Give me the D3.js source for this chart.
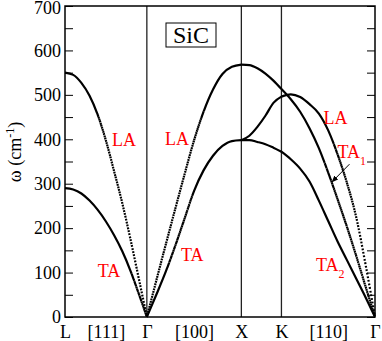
<!DOCTYPE html>
<meta charset="utf-8">
<html>
<head>
<style>
  body { margin: 0; background: #fff; }
  text { font-family: "Liberation Serif", "Times New Roman", serif; }
  .tick text { font-size: 18px; fill: #000; }
  .tick line { stroke: #000; stroke-width: 1px; }
  text.band { font-size: 18px; fill: #ff0000; }
  text.title { font-size: 18px; fill: #000; }
  text.name { font-size: 24px; fill: #000; }
  path.branch { fill: none; stroke: #000; stroke-width: 2.2px; stroke-linecap: butt; }
  line.sym { stroke: #222; stroke-width: 1.3px; }
</style>
<script src="https://d3js.org/d3.v7.min.js"></script>
</head>
<body>
<div id="chart"></div>
<script>
// path through the zone, positions in units of 2pi/a
var kNames = ["L", "Γ", "X", "K", "Γ"],
    kPos = [0, 0.866, 1.866, 2.29, 3.28],
    dirNames = ["[111]", "[100]", "", "[110]"],
    yTicks = d3.range(0, 701, 50);

// fractions along a segment at which the frequencies were read
var fTen = [0, 0.1, 0.2, 0.3, 0.4, 0.5, 0.6, 0.7, 0.8, 0.9, 1],
    fFive = [0, 0.2, 0.4, 0.6, 0.8, 1];

// frequencies (cm^-1)
// L -> Gamma
var laLG = [550, 545, 527, 498, 455, 397, 328, 256, 175, 88, 0],
    taLG = [290, 287, 278, 262, 241, 215, 184, 148, 104, 53, 0];
// Gamma -> X
var laGX = [0, 82, 163, 243, 322, 398, 462, 512, 547, 563, 568],
    taGX = [0, 50, 102, 160, 222, 284, 330, 363, 385, 396, 398];
// X -> K
var upXK = [568, 567, 560, 548, 532, 513],
    midXK = [398, 408, 428, 453, 482, 496],
    lowXK = [398, 398, 394, 389, 381, 372];
// K -> Gamma
var laKG = [496, 501, 495, 479, 458, 420, 366, 302, 224, 117, 0],
    ta1KG = [513, 490, 462, 425, 380, 325, 265, 203, 137, 68, 0],
    ta2KG = [372, 355, 334, 305, 262, 216, 170, 128, 86, 44, 0];

var branches = [
  { seg: 0, f: fTen, w: laLG }, { seg: 0, f: fTen, w: taLG },
  { seg: 1, f: fTen, w: laGX }, { seg: 1, f: fTen, w: taGX },
  { seg: 2, f: fFive, w: upXK }, { seg: 2, f: fFive, w: midXK }, { seg: 2, f: fFive, w: lowXK },
  { seg: 3, f: fTen, w: laKG }, { seg: 3, f: fTen, w: ta1KG }, { seg: 3, f: fTen, w: ta2KG }
];

// red branch labels: text, subscript, q, omega
var bandLabels = [
  { t: "LA", sub: "", q: 0.497, w: 384 },
  { t: "LA", sub: "", q: 1.058, w: 388 },
  { t: "TA", sub: "", q: 0.346, w: 91 },
  { t: "TA", sub: "", q: 1.227, w: 126 },
  { t: "LA", sub: "", q: 2.735, w: 434 },
  { t: "TA", sub: "1", q: 2.883, w: 358 },
  { t: "TA", sub: "2", q: 2.656, w: 104 }
];

var W = 382, H = 341,
    mLeft = 65, mRight = 375, mTop = 6, mBottom = 317;

var svg = d3.select("#chart").append("svg")
    .attr("width", W)
    .attr("height", H);

var x = d3.scaleLinear().domain([0, 3.28]).range([mLeft, mRight]);
var y = d3.scaleLinear().domain([0, 700]).range([mBottom, mTop]);

// y axes, ticks inside on both sides
var yl = svg.append("g")
    .attr("transform", "translate(" + mLeft + ",0)")
    .call(d3.axisLeft(y).tickValues(yTicks).tickSize(-8).tickPadding(4)
      .tickFormat(function(d) { return d % 100 ? "" : d; }));
yl.select(".domain").remove();
yl.selectAll(".tick text").filter(function(d) { return d === 700; }).attr("dy", "0.42em");

var yr = svg.append("g")
    .attr("transform", "translate(" + mRight + ",0)")
    .call(d3.axisRight(y).tickValues(yTicks).tickSize(-8).tickFormat(""));
yr.select(".domain").remove();

// bottom labels: symmetry points and directions
var bq = [], bt = [];
kPos.forEach(function(q, i) {
  bq.push(q); bt.push(kNames[i]);
  if (i < dirNames.length && dirNames[i]) {
    bq.push((q + kPos[i + 1]) / 2); bt.push(dirNames[i]);
  }
});
var xb = svg.append("g")
    .attr("transform", "translate(0," + mBottom + ")")
    .call(d3.axisBottom(x).tickValues(bq).tickSize(0).tickPadding(8)
      .tickFormat(function(d, i) { return bt[i]; }));
xb.select(".domain").remove();

// vertical lines at Gamma, X, K
svg.selectAll("line.sym")
    .data(kPos.slice(1, 4))
    .enter().append("line")
    .attr("class", "sym")
    .attr("x1", function(d) { return x(d); })
    .attr("x2", function(d) { return x(d); })
    .attr("y1", mTop)
    .attr("y2", mBottom);

// dispersion branches
var line = d3.line()
    .x(function(d) { return x(d.q); })
    .y(function(d) { return y(d.w); })
    .curve(d3.curveMonotoneX);

// dots evenly spaced in q, like the sampled calculation
function dotify(path) {
  var node = path.node(), L = node.getTotalLength();
  var dx = 0.65, dot = 1.8, step = 0.2;
  var next = node.getPointAtLength(0).x, centers = [];
  for (var s = 0; s <= L; s += step) {
    var p = node.getPointAtLength(s);
    if (p.x >= next) {
      centers.push(s);
      while (next <= p.x) next += dx;
    }
  }
  var segs = [];
  centers.forEach(function(c) {
    var a = Math.max(0, c - dot / 2), b = c + dot / 2;
    var last = segs[segs.length - 1];
    if (last && a <= last[1] + 0.1) last[1] = b;
    else segs.push([a, b]);
  });
  var arr = [0], cur = 0;
  segs.forEach(function(sg) {
    arr.push(sg[0] - cur, sg[1] - sg[0]);
    cur = sg[1];
  });
  arr.push(L + 10);
  path.attr("stroke-dasharray", arr.map(function(v) { return v.toFixed(2); }).join(" "));
}

branches.forEach(function(b) {
  var q0 = kPos[b.seg], q1 = kPos[b.seg + 1];
  var pts = b.w.map(function(w, i) { return { q: q0 + b.f[i] * (q1 - q0), w: w }; });
  var p = svg.append("path")
      .attr("class", "branch")
      .attr("d", line(pts));
  dotify(p);
});

// frame
svg.append("rect")
    .attr("x", mLeft).attr("y", mTop)
    .attr("width", mRight - mLeft).attr("height", mBottom - mTop)
    .attr("fill", "none").attr("stroke", "#000").attr("stroke-width", 1.5);

// band labels
var bl = svg.selectAll("text.band")
    .data(bandLabels)
    .enter().append("text")
    .attr("class", "band")
    .attr("x", function(d) { return x(d.q); })
    .attr("y", function(d) { return y(d.w); })
    .text(function(d) { return d.t; });
bl.filter(function(d) { return d.sub; })
  .append("tspan")
    .attr("dy", 7)
    .attr("font-size", "12px")
    .text(function(d) { return d.sub; });

// arrow to TA1
svg.append("defs").append("marker")
    .attr("id", "head")
    .attr("viewBox", "0 0 10 10")
    .attr("refX", 9).attr("refY", 5)
    .attr("markerWidth", 7).attr("markerHeight", 7)
    .attr("orient", "auto")
  .append("path")
    .attr("d", "M0,1 L10,5 L0,9 z")
    .attr("fill", "#000");
svg.append("line")
    .attr("x1", x(3.010)).attr("y1", y(344))
    .attr("x2", x(2.825)).attr("y2", y(304))
    .attr("stroke", "#000").attr("stroke-width", 1)
    .attr("marker-end", "url(#head)");

// SiC box
svg.append("rect")
    .attr("x", 166).attr("y", 23).attr("width", 50).attr("height", 24)
    .attr("fill", "#fff").attr("stroke", "#000").attr("stroke-width", 1);
svg.append("text")
    .attr("class", "name")
    .attr("x", 191).attr("y", 43)
    .attr("text-anchor", "middle")
    .text("SiC");

// y title
var yt = svg.append("text")
    .attr("class", "title")
    .attr("transform", "translate(21,152) rotate(-90)")
    .attr("text-anchor", "middle");
yt.append("tspan").text("ω (cm");
yt.append("tspan").attr("dy", -7).attr("font-size", "12px").text("-1");
yt.append("tspan").attr("dy", 7).text(")");
</script>
</body>
</html>
